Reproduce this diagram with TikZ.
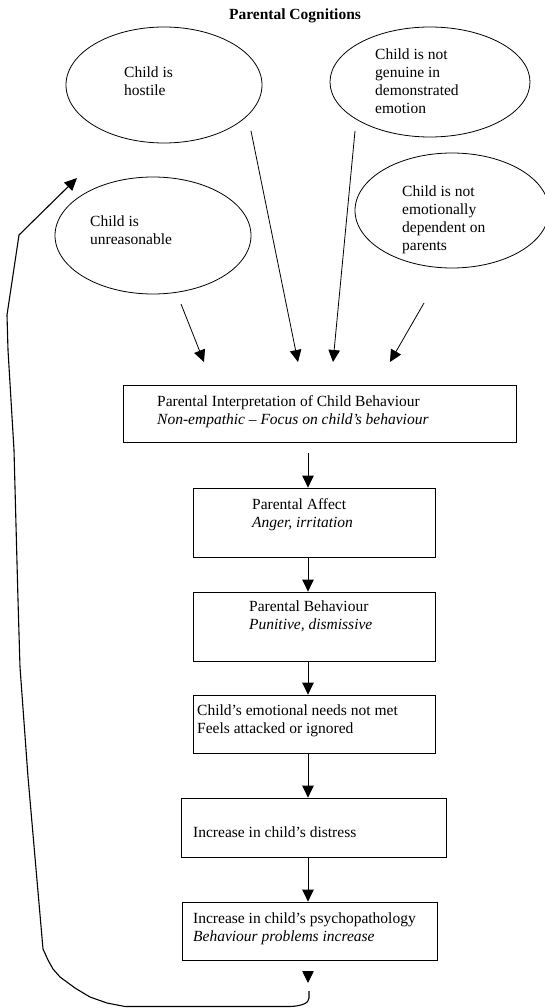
\documentclass[tikz,border=0pt]{standalone}
\usepackage{fontspec}
\setmainfont{Liberation Serif}
\usetikzlibrary{shapes.geometric,arrows.meta}
\begin{document}
\begin{tikzpicture}[x=1pt,y=-1pt,
  ell/.style={draw, ellipse, line width=0.8pt, inner sep=0pt},
  box/.style={draw, rectangle, line width=0.8pt, inner sep=0pt},
  txt/.style={anchor=north west, inner sep=0pt, align=left, font=\fontsize{15.5}{18}\selectfont},
  ttl/.style={inner sep=0pt, font=\fontsize{15.5}{18}\selectfont\bfseries},
  arr/.style={line width=0.8pt, -{Triangle[length=12pt,width=11.5pt]}},
  loopline/.style={line width=1.1pt, line join=round, -{Triangle[length=12.5pt,width=11.5pt]}}]
\useasboundingbox (0,0) rectangle (544,1008);

% title
\node[ttl] (title) at (295,16) {Parental Cognitions};

% ellipses
\node[ell, minimum width=196pt, minimum height=116pt] (host) at (164,85) {};
\node[ell, minimum width=200pt, minimum height=110pt] (genu) at (430,82) {};
\node[ell, minimum width=196pt, minimum height=117pt] (unre) at (153,235.5) {};
\node[ell, minimum width=194pt, minimum height=115pt] (depe) at (452,210.5) {};

\node[txt] (thost) at (124,67) {Child is\\hostile};
\node[txt] (tgenu) at (375,49) {Child is not\\genuine in\\demonstrated\\emotion};
\node[txt] (tunre) at (90,216) {Child is\\unreasonable};
\node[txt] (tdepe) at (402,186) {Child is not\\emotionally\\dependent on\\parents};

% boxes
\node[box, minimum width=393pt, minimum height=57pt] (b1) at (319.5,413.5) {};
\node[box, minimum width=242pt, minimum height=69pt] (b2) at (314,522.5) {};
\node[box, minimum width=242pt, minimum height=69pt] (b3) at (314,626.5) {};
\node[box, minimum width=242pt, minimum height=58pt] (b4) at (314,724) {};
\node[box, minimum width=265pt, minimum height=59pt] (b5) at (313.5,827.5) {};
\node[box, minimum width=255pt, minimum height=58pt] (b6) at (309.5,931) {};

\node[txt] (tb1) at (157,395) {Parental Interpretation of Child Behaviour\\\textit{Non-empathic – Focus on child’s behaviour}};
\node[txt] (tb2) at (252,498) {Parental Affect\\\textit{Anger, irritation}};
\node[txt] (tb3) at (249,601) {Parental Behaviour\\\textit{Punitive, dismissive}};
\node[txt] (tb4) at (197,705) {Child’s emotional needs not met\\Feels attacked or ignored};
\node[txt] (tb5) at (193,827) {Increase in child’s distress};
\node[txt] (tb6) at (193,913) {Increase in child’s psychopathology\\\textit{Behaviour problems increase}};

% slanted arrows from the cognitions
\coordinate (s1) at (181,304);  \coordinate (e1) at (204,362);
\coordinate (s2) at (251,131);  \coordinate (e2) at (298,362);
\coordinate (s3) at (355,131);  \coordinate (e3) at (333,362);
\coordinate (s4) at (424,303);  \coordinate (e4) at (390,362);
\draw[arr] (s1) -- (e1);
\draw[arr] (s2) -- (e2);
\draw[arr] (s3) -- (e3);
\draw[arr] (s4) -- (e4);

% vertical chain
\coordinate (ax) at (308,0);
\draw[arr] ([yshift=-11pt]b1.south -| ax) -- (b2.north -| ax);
\draw[arr] (b2.south -| ax) -- (b3.north -| ax);
\draw[arr] (b3.south -| ax) -- (b4.north -| ax);
\draw[arr] (b4.south -| ax) -- (b5.north -| ax);
\draw[arr] (b5.south -| ax) -- (b6.north -| ax);
\coordinate (h1) at (308,971);
\coordinate (h2) at (308,983);
\draw[arr] (h1) -- (h2);

% feedback loop
\coordinate (ls) at (309,991);
\coordinate (le) at (77,178);
\draw[loopline] (ls) -- (309,998) .. controls (309,1003) and (302,1006) .. (290,1006.5)
  -- (125,1006.5) -- (107,1003) -- (90,997) -- (75,988) -- (60,977) -- (53,969)
  -- (48,960) -- (43,949) -- (28,777) -- (20,667) -- (18,600) -- (14,450)
  -- (8,350) -- (7,315) -- (19,235) -- (le);
\end{tikzpicture}
\end{document}
